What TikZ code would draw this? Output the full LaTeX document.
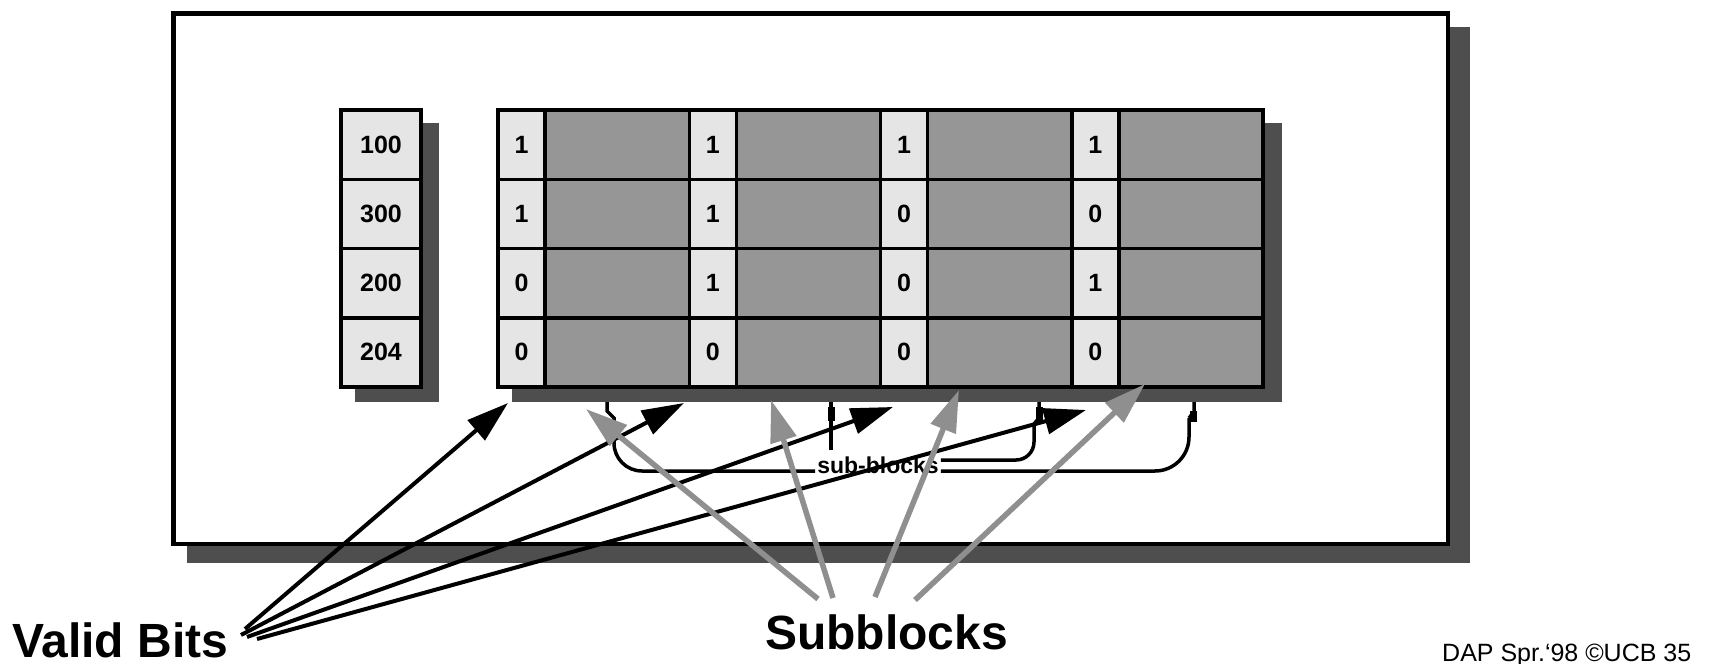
\documentclass[tikz,border=0pt]{standalone}
\usepackage{fontspec}
\setmainfont{Liberation Sans}
\usetikzlibrary{arrows.meta}
\definecolor{cellLight}{RGB}{229,229,229}
\definecolor{cellData}{RGB}{150,150,150}
\definecolor{dropGray}{RGB}{78,78,78}
\definecolor{pointerGray}{RGB}{143,143,143}

\begin{document}
\begin{tikzpicture}[x=1pt,y=-1pt,
  outline/.style={draw=black,line width=3.5pt},
  dropshadow/.style={fill=dropGray,draw=none},
  bitlabel/.style={font=\fontsize{25}{25}\selectfont\bfseries,inner sep=0pt},
  validptr/.style={draw=black,line width=4pt,-{Triangle[length=42pt,width=26pt]}},
  blockptr/.style={draw=pointerGray,line width=5.5pt,-{Triangle[length=42pt,width=26pt]}},
  bracket/.style={draw=black,line width=3.5pt},
  caption/.style={font=\fontsize{48}{48}\selectfont\bfseries,inner sep=0pt,anchor=base west},
]
\useasboundingbox (0,0) rectangle (1709,664);
\fill[white] (0,0) rectangle (1709,664);

% panel with drop shadow
\path[dropshadow] (187,27) rectangle (1470,563);
\draw[line width=4.5pt,fill=white] (173.25,13.25) rectangle (1447.75,543.75);

% tag column
\path[dropshadow] (355,123) rectangle (439,402);
\foreach \r/\tag in {0/100,1/300,2/200,3/204}{
  \draw[outline,fill=cellLight] (341,{110+69.25*\r}) rectangle (421,{110+69.25*(\r+1)});
  \node[bitlabel] (tag-\r) at (381,{144.6+69.25*\r}) {\tag};
}

% data array: four subblocks, each with a valid bit
\path[dropshadow] (512,123) rectangle (1282,402);
\foreach \r/\vals in {0/{1,1,1,1},1/{1,1,0,0},2/{0,1,0,1},3/{0,0,0,0}}{
  \foreach \v [count=\b from 0] in \vals {
    \pgfmathsetmacro{\xa}{498+191.25*\b}
    \pgfmathsetmacro{\xb}{\xa+47}
    \pgfmathsetmacro{\xc}{\xa+191.25}
    \draw[outline,fill=cellLight] (\xa,{110+69.25*\r}) rectangle (\xb,{110+69.25*(\r+1)});
    \draw[outline,fill=cellData] (\xb,{110+69.25*\r}) rectangle (\xc,{110+69.25*(\r+1)});
    \node[bitlabel] (v-\r-\b) at ({\xa+23.5},{144.6+69.25*\r}) {\v};
  }
}

% sub-block dimension marks
\node[font=\fontsize{23}{23}\selectfont\bfseries,inner sep=2pt,anchor=base] (sublabel) at (878,473) {sub-blocks};
\coordinate (lowlvl) at (0,471);
\coordinate (highlvl) at (0,460);
\coordinate (outL) at (607,402);
\coordinate (outR) at (1194,402);
\coordinate (inL) at (831,402);
\coordinate (inR) at (1039,402);

\draw[bracket] (outL) -- (607,411) -- (614,418)
  [rounded corners=28pt] -- (614,471) -- (sublabel.west |- lowlvl);
\draw[bracket,rounded corners=34pt] (sublabel.east |- lowlvl) -- (1189,471) -- (1189,418);
\draw[bracket] (1189,418) -- (1194,412) -- (outR);

\draw[bracket] (inL) -- (831,450);
\draw[bracket,rounded corners=18pt] (sublabel.east |- highlvl) -- (1034,460) -- (1034,424);
\draw[bracket] (1034,424) -- (1039,418) -- (inR);

% tick marks near the top of each dimension line
\draw[line width=7pt] (831,407) -- (831,421);
\draw[line width=7pt] (1039,407) -- (1039,421);
\draw[line width=7pt] (1193,411) -- (1193,422);

% captions
\node[caption] (validcap) at (12,657) {Valid Bits};
\node[caption] (subcap) at (765,649) {Subblocks};
\node[font=\fontsize{25}{25}\selectfont,inner sep=0pt,anchor=base west] (footer) at (1442,661) {DAP Spr.‘98 ©UCB 35};

% pointers from the captions
\coordinate (vs1) at (245,629);
\coordinate (vs2) at (241,635);
\coordinate (vs3) at (247,637);
\coordinate (vs4) at (257,639);
\coordinate (vt1) at (508,403);
\coordinate (vt2) at (684,403);
\coordinate (vt3) at (893,407);
\coordinate (vt4) at (1086,410);
\foreach \i in {1,...,4} \draw[validptr] (vs\i) -- (vt\i);

\coordinate (ss1) at (818,599);
\coordinate (ss2) at (833,598);
\coordinate (ss3) at (875,597);
\coordinate (ss4) at (915,600);
\coordinate (st1) at (586,409);
\coordinate (st2) at (771,400);
\coordinate (st3) at (959,390);
\coordinate (st4) at (1145,384);
\foreach \i in {1,...,4} \draw[blockptr] (ss\i) -- (st\i);
\end{tikzpicture}
\end{document}
